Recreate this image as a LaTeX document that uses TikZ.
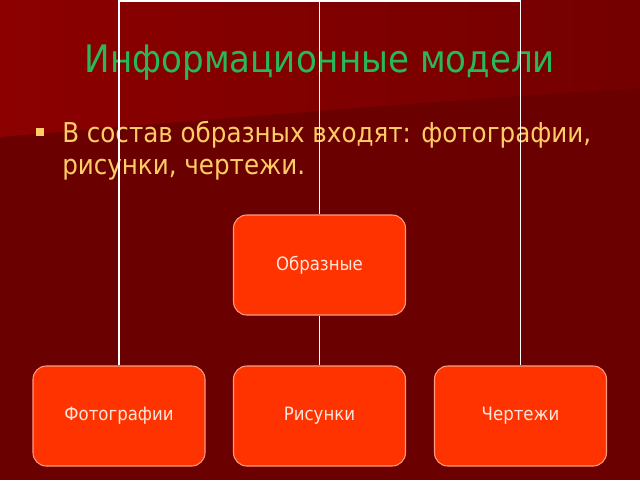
\documentclass[tikz,border=0pt]{standalone}
\usepackage{fontspec}
\setmainfont{DejaVu Sans Condensed}
\usetikzlibrary{positioning}
\definecolor{bgdark}{HTML}{6A0000}
\definecolor{bglight}{HTML}{8C0000}
\definecolor{bgright}{HTML}{740000}
\definecolor{titlegreen}{HTML}{28B858}
\definecolor{bulletyellow}{HTML}{FFCC66}
\definecolor{boxfill}{HTML}{FF3300}
\definecolor{boxline}{HTML}{FF9A80}
\definecolor{boxtext}{HTML}{FFE6DC}

\tikzset{
  kindbox/.style={draw=boxline, line width=0.8pt, fill=boxfill, rounded corners=10pt,
    minimum width=129pt, minimum height=75pt, inner sep=0pt,
    text=boxtext, font=\fontsize{13.8}{16}\selectfont},
  bullettext/.style={anchor=base west, inner sep=0pt, text=bulletyellow,
    font=\fontsize{20.5}{24}\selectfont},
  link/.style={draw=white, line width=1.2pt}
}

\begin{document}
\begin{tikzpicture}[x=0.75pt, y=-0.75pt]
  % Background
  \fill[bgdark] (0,0) rectangle (640,480);
  \shade[left color=bglight, right color=bgright] (0,0) -- (640,0) -- (640,88)
    .. controls (450,100) and (200,120) .. (0,137) -- cycle;
  \useasboundingbox (0,0) rectangle (640,480);
  % Title and bullet
  \node[anchor=base, text=titlegreen, font=\fontsize{28.4}{32}\selectfont] (title) at (320,72) {Информационные модели};
  \fill[bulletyellow] (36,128) rectangle (44,136);
  \node[bullettext] (line1) at (62,142) {В состав образных входят: фотографии,};
  \node[bullettext] (line2) at (62,174) {рисунки, чертежи.};
  % Boxes
  \node[kindbox] (obraz) at (319.5,265) {Образные};
  \node[kindbox] (foto) at (119,416) {Фотографии};
  \node[kindbox] (risunki) at (319.5,416) {Рисунки};
  \node[kindbox] (chert) at (520.5,416) {Чертежи};
  % Connectors
  \coordinate (topleft) at (foto.north |- 0,1);
  \coordinate (topmid) at (obraz.north |- 0,1);
  \coordinate (topright) at (chert.north |- 0,1);
  \draw[link] (foto.north) -- (topleft) -- (topright) -- (chert.north);
  \draw[link] (topmid) -- (obraz.north);
  \draw[link] (obraz.south) -- (risunki.north);
\end{tikzpicture}
\end{document}
